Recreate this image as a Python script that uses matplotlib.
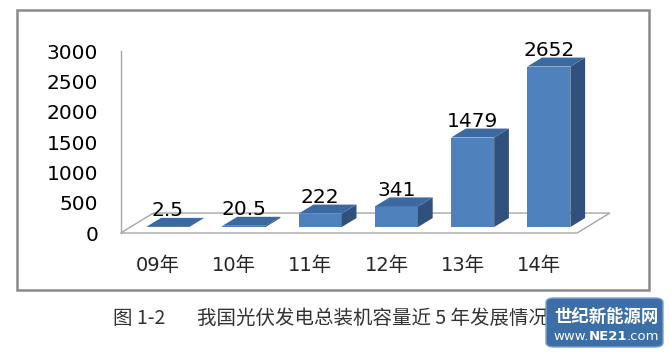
import matplotlib.pyplot as plt
from matplotlib.patches import Polygon, Rectangle, FancyBboxPatch
from matplotlib.text import Annotation

# data
years = ['09年', '10年', '11年', '12年', '13年', '14年']
capacity = [2.5, 20.5, 222, 341, 1479, 2652]
value_text = ['2.5', '20.5', '222', '341', '1479', '2652']
y_ticks = [0, 500, 1000, 1500, 2000, 2500, 3000]
fig_no = '图 1-2'
caption = '我国光伏发电总装机容量近 5 年发展情况'
site_name = '世纪新能源网'

cjk = ['DejaVu Sans', 'Noto Sans CJK SC']

fig = plt.figure(figsize=(6.7, 3.53), dpi=100)
ax = fig.add_axes([0, 0, 1, 1])
ax.set_xlim(-2.073, 6.719)
ax.set_ylim(-1983, 3851)
ax.axis('off')

# fake 3d: depth moves things right and up
DX, DY = 0.43, 330
f0, f1 = 0.3, 0.75
bw = 0.565
grey = '#a6a6a6'


def proj(x, v, d):
    return (x + d * DX, v + d * DY)


x0, x1 = -0.49, 5.5
floor = [proj(x0, 0, 0), proj(x1, 0, 0), proj(x1, 0, 1), proj(x0, 0, 1)]
ax.add_patch(Polygon(floor, closed=True, fc='white', ec=grey, lw=1, zorder=1))
ax.plot([x0, x0], [0, 3000], color=grey, lw=1, zorder=1)

for i, v in enumerate(capacity):
    xl, xr = i - bw / 2, i + bw / 2
    ax.bar(i + f0 * DX, v, bottom=f0 * DY, width=bw, color='#4f81bd', zorder=3)
    top = [proj(xl, v, f0), proj(xr, v, f0), proj(xr, v, f1), proj(xl, v, f1)]
    side = [proj(xr, 0, f0), proj(xr, v, f0), proj(xr, v, f1), proj(xr, 0, f1)]
    ax.add_patch(Polygon(side, closed=True, fc='#30517d', ec='none', zorder=3))
    ax.add_patch(Polygon(top, closed=True, fc='#3c6aa0', ec='none', zorder=3))
    ax.annotate(value_text[i], (i + f0 * DX, v + f1 * DY), xytext=(0, 1),
                textcoords='offset points', ha='center', va='baseline',
                fontsize=14.5, color='black', zorder=4)
    ax.text(i, -545, years[i], ha='center', va='center', fontsize=14,
            family=cjk, color='#262626')

for t in y_ticks:
    ax.text(-0.787, t, str(t), ha='right', va='center_baseline', fontsize=14.5,
            color='black')

# outer chart frame
fig.add_artist(Rectangle((17 / 670, 1 - 290 / 353), 632 / 670, 280 / 353,
                         transform=fig.transFigure, fill=False,
                         ec='#8a8a8a', lw=1.8))

# caption
fig.text(113 / 670, 1 - 318 / 353, fig_no, ha='left', va='center',
         fontsize=14, family='Noto Sans CJK SC', color='#333333', zorder=1)
fig.text(197 / 670, 1 - 318 / 353, caption, ha='left', va='center',
         fontsize=14, family='Noto Sans CJK SC', color='#333333', zorder=1)

# watermark
fig.add_artist(FancyBboxPatch((546 / 670, 1 - 347 / 353), 117 / 670, 49 / 353,
                              boxstyle='round,pad=0,rounding_size=0.012',
                              transform=fig.transFigure, fc='#3c6ea8',
                              ec='#7aa2cf', lw=1, zorder=5))
fig.text(606 / 670, 1 - 317 / 353, site_name, ha='center', va='center',
         fontsize=12.5, fontweight='bold', family='Noto Sans CJK SC',
         color='white', zorder=6)
t1 = fig.text(553 / 670, 1 - 337 / 353, 'www.', ha='left', va='center',
              fontsize=9.5, color='white', zorder=6)
t2 = Annotation('NE21', xy=(1, 0), xycoords=t1, ha='left', va='bottom',
                fontsize=9.5, fontweight='bold', color='white', zorder=6)
fig.add_artist(t2)
t3 = Annotation('.com', xy=(1, 0), xycoords=t2, ha='left', va='bottom',
                fontsize=9.5, color='white', zorder=6)
fig.add_artist(t3)

fig.savefig('out.png', dpi=100)
